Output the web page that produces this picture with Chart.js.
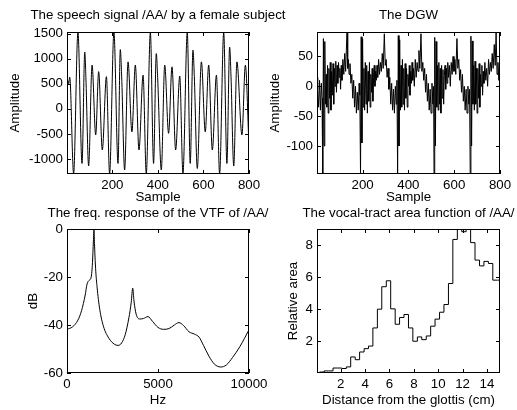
<!DOCTYPE html>
<html>
<head>
<meta charset="utf-8">
<script src="https://cdn.jsdelivr.net/npm/chart.js@4.4.0/dist/chart.umd.min.js"></script>
<style>
  body { margin: 0; background: #fff; }
  #wrap { position: relative; width: 517px; height: 410px; overflow: hidden; }
  canvas { position: absolute; }
</style>
</head>
<body>
<div id="wrap">
  <canvas id="c1" width="300" height="205" style="left:0;top:0"></canvas>
  <canvas id="c2" width="257" height="205" style="left:260px;top:0"></canvas>
  <canvas id="c3" width="290" height="210" style="left:0;top:200px"></canvas>
  <canvas id="c4" width="257" height="210" style="left:260px;top:200px"></canvas>
</div>
<script>
// 音声信号 /AA/ (サンプル番号, 振幅) 山と谷を図から読み取り
const speechSample = [1, 5, 8, 13, 30,
  49, 67, 79, 84, 96, 111, 127, 140, 156, 174, 188,
  207, 225, 235, 241, 254, 269, 286, 301, 317, 335, 349,
  367, 381, 393, 399, 415, 430, 447, 462, 478, 496, 510,
  529, 542, 554, 560, 573, 591, 608, 623, 639, 657, 671,
  689, 703, 715, 721, 733, 747, 769, 784, 800];
const speechAmp = [400, 560, 500, 630, -1290,
  1520, -1090, 1130, 620, -1140, 870, -520, 740, -820, 640, -1290,
  1520, -1090, 1180, 650, -1220, 935, -460, 870, -820, 670, -1290,
  1520, -1090, 1100, 620, -1220, 870, -490, 835, -820, 650, -1290,
  1520, -1090, 1170, 640, -1190, 935, -460, 870, -820, 670, -1290,
  1520, -1090, 1230, 650, -1140, 935, -520, 870, -760];
const sampleTicks = [200, 400, 600, 800];
const speechTicks = [-1000, -500, 0, 500, 1000, 1500];

// DGW (声門波の微分)
const dgwSample = [1, 4, 8, 12, 16, 20, 23, 26, 29, 32, 35, 38, 41, 44, 47, 50, 53, 56, 59, 62, 65, 68, 71, 74, 77, 80, 83, 86, 89, 92, 95, 98, 101, 104, 107, 110, 114, 118, 122, 126, 129, 132, 135, 138, 141, 145, 149, 153, 157, 161, 165, 169, 173, 177, 181, 185, 188,
  191, 194, 197, 200, 203, 206, 209, 212, 215, 218, 221, 224, 227, 230, 233, 236, 239, 242, 245, 248, 251, 254, 257, 260, 263, 266, 270, 274, 278, 282, 286, 290, 295, 299, 303, 307, 311, 315, 319, 323, 327, 331, 335, 339, 343, 347, 350,
  353, 356, 359, 362, 365, 368, 371, 374, 377, 380, 383, 386, 389, 392, 395, 398, 401, 404, 407, 410, 413, 416, 419, 422, 426, 430, 434, 438, 442, 446, 450, 455, 459, 463, 467, 471, 475, 479, 483, 487, 491, 495, 499, 503, 507, 510,
  512, 515, 518, 521, 524, 527, 530, 533, 536, 539, 542, 545, 548, 551, 554, 557, 560, 563, 566, 569, 572, 575, 579, 583, 587, 591, 595, 599, 603, 607, 612, 616, 620, 624, 628, 632, 636, 640, 644, 648, 652, 656, 660, 664, 667,
  670, 673, 676, 679, 682, 685, 688, 691, 694, 697, 700, 703, 706, 709, 712, 715, 718, 721, 724, 727, 730, 734, 738, 742, 746, 750, 754, 758, 762, 766, 770, 775, 779, 783, 787, 791, 795, 800];
const dgwAmp = [15, -5, -35, 10, -40, 5, -20, -147, 80, -100, 75, -30, 20, -35, 35, -45, 30, -20, 40, -40, 25, -15, 38, -30, 30, 0, 42, -10, 35, 5, 40, 15, 30, -5, 35, 10, 45, 20, 55, 25, 60, 90, 30, 45, 20, 38, 5, 20, -20, 10, -35, 0, -45, -10, -40, 5, -15,
  -147, 83, -95, 80, -35, 30, -40, 40, -30, 35, -45, 25, -25, 40, -35, 20, -10, 30, -25, 15, 35, 0, 25, 10, 35, 15, 45, 20, 40, 25, 55, 30, 88, 35, 45, 15, 30, -5, 15, -30, 5, -40, -5, -45, 0, -30, 10,
  -147, 85, -100, 78, -40, 35, -35, 45, -30, 30, -40, 38, -20, 30, -35, 20, 0, 35, -15, 25, 5, 40, 10, 30, 0, 45, 15, 40, 25, 60, 30, 88, 25, 40, 10, 30, -10, 20, -25, 5, -40, -5, -45, 5, -30, 0,
  -147, 82, -100, 75, -35, 35, -40, 40, -30, 30, -45, 35, -20, 28, -30, 18, 35, -5, 30, 5, 40, 15, 35, 0, 40, 20, 50, 25, 45, 20, 80, 30, 45, 10, 28, -10, 20, -25, 0, -40, -5, -45, 0, -30, -5,
  -147, 84, -100, 76, -30, 35, -40, 42, -30, 30, -45, 30, -20, 38, -35, 20, 0, 35, -15, 25, 5, 40, 10, 30, 0, 45, 20, 40, 25, 55, 30, 70, 35, 90, 20, 40, 10, 48];
const dgwTicks = [-100, -50, 0, 50];

// 声道伝達関数の周波数応答
const freqHz = [0, 300, 600, 800, 1000, 1100, 1200, 1330, 1400, 1450, 1480, 1510, 1560, 1650, 1800, 2000, 2300, 2600, 2800, 3000, 3200, 3400, 3530, 3610, 3680, 3800, 4000, 4200, 4450, 4700, 5000, 5300, 5600, 5900, 6150, 6400, 6700, 7000, 7250, 7500, 7800, 8100, 8450, 8750, 9100, 9500, 10000];
const freqDb = [-41.8, -40.8, -38, -34, -27.5, -23, -21.5, -20, -14, -5, 0, -6, -15, -24, -33.5, -40.5, -45.5, -48, -48.5, -47.5, -44, -37, -30.5, -24.6, -30, -35.5, -37.5, -37.3, -36.5, -38.5, -41, -41.8, -41.5, -40, -39, -40.2, -42.8, -43.8, -45, -48.5, -53, -56.3, -57.5, -56.7, -53.5, -49, -42];
const hzTicks = [0, 5000, 10000];
const dbTicks = [-60, -40, -20, 0];

// 声道断面積関数 (区間の始点 cm, 相対面積)
const areaStart = [0.055, 0.27, 0.64, 1.00, 1.37, 1.73, 2.09, 2.46, 2.82, 3.19, 3.55, 3.92, 4.28, 4.64, 5.01, 5.37, 5.74, 6.10, 6.47, 6.83, 7.19, 7.56, 7.92, 8.29, 8.65, 9.02, 9.38, 9.74, 10.11, 10.47, 10.84, 11.20, 11.57, 11.93, 12.29, 12.66, 13.02, 13.39, 13.75, 14.12, 14.48, 14.85];
const areaEnd = 15.07;
const areaValue = [1.02, 0.02, 0.08, 0.15, 0.15, 0.33, 0.33, 0.3, 0.4, 1.02, 0.85, 1.33, 1.54, 1.7, 2.83, 4.0, 5.4, 5.77, 4.02, 3.06, 3.48, 3.67, 2.83, 2.0, 2.27, 2.1, 2.33, 2.94, 3.38, 3.81, 4.29, 5.6, 8.35, 8.98, 8.83, 9.0, 8.15, 7.06, 6.7, 6.98, 6.85, 5.81];
const cmTicks = [2, 4, 6, 8, 10, 12, 14];
const areaTicks = [2, 4, 6, 8];

Chart.defaults.font.family = "'Liberation Sans', Arial, sans-serif";
Chart.defaults.font.size = 13.3;
Chart.defaults.color = '#000';
Chart.defaults.animation = false;

// MATLAB風の枠と内向き目盛り、プロット中央のタイトル
const boxTicks = {
  id: 'boxTicks',
  afterDatasetsDraw(chart, args, opts) {
    const ctx = chart.ctx;
    const a = chart.chartArea;
    const x = chart.scales.x, y = chart.scales.y;
    const len = 4;
    ctx.save();
    ctx.strokeStyle = '#000';
    ctx.lineWidth = 1;
    ctx.strokeRect(Math.round(a.left) + 0.5, Math.round(a.top) + 0.5, Math.round(a.width) - 1, Math.round(a.height) - 1);
    ctx.beginPath();
    x.ticks.forEach(t => {
      const px = Math.round(x.getPixelForValue(t.value)) + 0.5;
      ctx.moveTo(px, a.bottom); ctx.lineTo(px, a.bottom - len);
      ctx.moveTo(px, a.top); ctx.lineTo(px, a.top + len);
    });
    y.ticks.forEach(t => {
      const py = Math.round(y.getPixelForValue(t.value)) + 0.5;
      ctx.moveTo(a.left, py); ctx.lineTo(a.left + len, py);
      ctx.moveTo(a.right, py); ctx.lineTo(a.right - len, py);
    });
    ctx.stroke();
    // タイトル
    ctx.fillStyle = '#000';
    ctx.font = "13.3px 'Liberation Sans', Arial, sans-serif";
    ctx.textAlign = 'center';
    ctx.textBaseline = 'middle';
    ctx.fillText(opts.text, (a.left + a.right) / 2, opts.y);
    ctx.restore();
  }
};

function toPoints(xs, ys) {
  return xs.map((v, i) => ({x: v, y: ys[i]}));
}

function fixedTicks(values) {
  return s => { s.ticks = values.map(v => ({value: v})); };
}

// 共通の設定を作る
function makeChart(id, cfg) {
  new Chart(document.getElementById(id), {
    type: 'line',
    data: {
      datasets: [{
        data: cfg.points,
        borderColor: '#000',
        borderWidth: 1,
        pointRadius: 0,
        fill: false,
        stepped: cfg.stepped || false,
        cubicInterpolationMode: cfg.smooth ? 'monotone' : 'default',
        tension: 0
      }]
    },
    options: {
      responsive: false,
      animation: false,
      layout: { padding: { left: 0, right: cfg.padRight, top: cfg.padTop, bottom: 0 } },
      plugins: {
        legend: { display: false },
        tooltip: { enabled: false },
        title: { display: false },
        boxTicks: { text: cfg.title, y: cfg.titleY }
      },
      scales: {
        x: {
          type: 'linear',
          min: cfg.xMin, max: cfg.xMax,
          grid: { display: false, drawTicks: false },
          border: { display: false },
          afterBuildTicks: fixedTicks(cfg.xTicks),
          ticks: { autoSkip: false, maxRotation: 0, padding: 3, callback: v => String(v) },
          title: { display: true, text: cfg.xTitle, padding: { top: 0, bottom: cfg.xTitlePad } },
          afterFit: s => { s.height = cfg.xHeight; }
        },
        y: {
          type: 'linear',
          min: cfg.yMin, max: cfg.yMax,
          grid: { display: false, drawTicks: false },
          border: { display: false },
          afterBuildTicks: fixedTicks(cfg.yTicks),
          ticks: { autoSkip: false, padding: 4, callback: v => String(v) },
          title: { display: true, text: cfg.yTitle, padding: { top: cfg.yTitlePad, bottom: 0 } },
          afterFit: s => { s.width = cfg.yWidth; }
        }
      }
    },
    plugins: [boxTicks]
  });
}

makeChart('c1', {
  title: 'The speech signal /AA/ by a female subject', titleY: 15,
  points: toPoints(speechSample, speechAmp), smooth: true,
  xMin: 1, xMax: 800, xTicks: sampleTicks, yMin: -1300, yMax: 1530, yTicks: speechTicks,
  xTitle: 'Sample', yTitle: 'Amplitude',
  padRight: 51, padTop: 32, xHeight: 31, xTitlePad: 0, yWidth: 67, yTitlePad: 7
});

makeChart('c2', {
  title: 'The DGW', titleY: 15,
  points: toPoints(dgwSample, dgwAmp),
  xMin: 1, xMax: 800, xTicks: sampleTicks, yMin: -147, yMax: 91, yTicks: dgwTicks,
  xTitle: 'Sample', yTitle: 'Amplitude',
  padRight: 17, padTop: 32, xHeight: 31, xTitlePad: 0, yWidth: 57, yTitlePad: 7
});

makeChart('c3', {
  title: 'The freq. response of the VTF of /AA/', titleY: 13,
  points: toPoints(freqHz, freqDb), smooth: true,
  xMin: 0, xMax: 10000, xTicks: hzTicks, yMin: -60, yMax: 0, yTicks: dbTicks,
  xTitle: 'Hz', yTitle: 'dB',
  padRight: 41, padTop: 29, xHeight: 37, xTitlePad: 2, yWidth: 67, yTitlePad: 25
});

makeChart('c4', {
  title: 'The vocal-tract area function of /AA/', titleY: 13,
  points: toPoints(areaStart.concat([areaEnd]), areaValue.concat([areaValue[areaValue.length - 1]])),
  stepped: 'after',
  xMin: 0.055, xMax: areaEnd, xTicks: cmTicks, yMin: 0.02, yMax: 9.0, yTicks: areaTicks,
  xTitle: 'Distance from the glottis (cm)', yTitle: 'Relative area',
  padRight: 17, padTop: 29, xHeight: 37, xTitlePad: 2, yWidth: 57, yTitlePad: 25
});
</script>
</body>
</html>
